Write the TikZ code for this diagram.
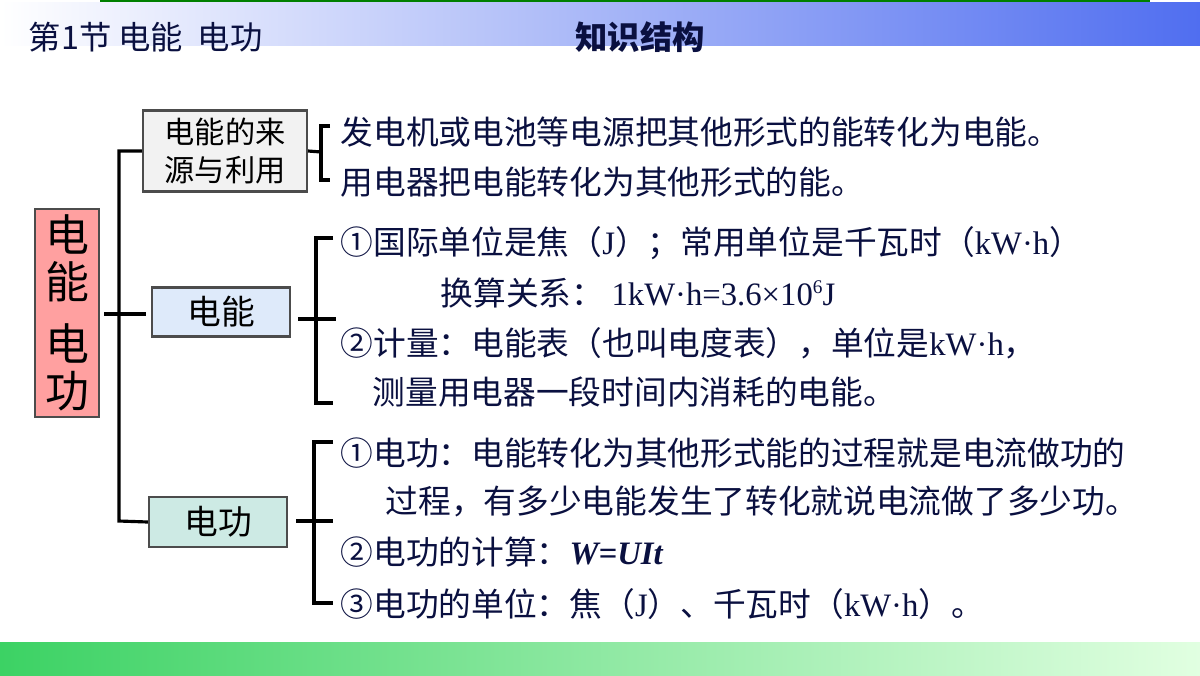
\documentclass[tikz,border=0pt]{standalone}
\usepackage{fontspec}
\setmainfont{Noto Sans CJK SC}
\newfontfamily\lat{Liberation Serif}
\usetikzlibrary{positioning}
\definecolor{ink}{HTML}{0A1040}
\tikzset{
  box/.style={draw=black!70, line width=0.6pt, inner sep=0pt, align=center},
  ln/.style={line width=0.9pt, black},
  txt/.style={anchor=west, inner sep=0pt, text=ink, font=\fontsize{9.3pt}{11pt}\selectfont},
}
\begin{document}
\begin{tikzpicture}[x=0.01cm,y=-0.01cm]
\useasboundingbox (0,0) rectangle (1200,675);
\fill[white] (0,0) rectangle (1200,675);
% header bands
\shade[left color=white, right color={rgb,255:red,80;green,110;blue,240}] (0,2) rectangle (1200,45);
\fill[green!50!black] (100,0) rectangle (1150,2);
\shade[left color={rgb,255:red,60;green,210;blue,100}, right color={rgb,255:red,225;green,255;blue,225}] (0,642) rectangle (1200,675);
\node[anchor=west, inner sep=0pt, text=ink, font=\fontsize{9.2pt}{10pt}\selectfont] (t1) at (28,37) {第1节 电能\ \ 电功};
\node[inner sep=0pt, text=ink, font=\fontsize{9.2pt}{10pt}\selectfont\bfseries] (t2) at (640,37) {知识结构};
% boxes
\node[box, fill={rgb,255:red,255;green,160;blue,160}, minimum width=0.64cm, minimum height=2.08cm, font=\fontsize{12.5pt}{13.5pt}\selectfont] (root) at (67,313) {电\\能\\[4pt]电\\功};
\node[box, fill=black!5, minimum width=1.64cm, minimum height=0.81cm, font=\fontsize{8.6pt}{10.6pt}\selectfont] (b1) at (225,151) {电能的来\\源与利用};
\node[box, fill={rgb,255:red,222;green,234;blue,250}, minimum width=1.38cm, minimum height=0.49cm, font=\fontsize{9.6pt}{11pt}\selectfont] (b2) at (221,312) {电能};
\node[box, fill={rgb,255:red,205;green,234;blue,228}, minimum width=1.38cm, minimum height=0.50cm, font=\fontsize{9.6pt}{11pt}\selectfont] (b3) at (218,522) {电功};
% trunk
\coordinate (r1) at (104,314);
\coordinate (j) at (146,314);
\draw[ln] (r1) -- (j);
\draw[ln] (b1.west) -| (119,521) -- (b3.west);
% bracket 1
\coordinate (s1) at (321,152);
\draw[ln] (b1.east) -- (s1);
\draw[ln] (330,126) -| (321,180) -- (330,180);
% bracket 2
\draw[ln] (298,319) -- (336,319);
\draw[ln] (333,238) -| (316,403) -- (333,403);
% bracket 3
\draw[ln] (296,521) -- (333,521);
\draw[ln] (333,442) -| (314,603) -- (333,603);
% texts
\node[txt] (a1) at (340,132) {发电机或电池等电源把其他形式的能转化为电能。};
\node[txt] (a2) at (340,182) {用电器把电能转化为其他形式的能。};
\node[txt] (c1) at (340,243) {①国际单位是焦（{\lat J}）；常用单位是千瓦时（{\lat kW·h}）};
\node[txt] (c2) at (440,293) {换算关系：\ {\lat 1kW·h=3.6×10\raisebox{0.8ex}{\fontsize{5.5pt}{6pt}\selectfont 6}J}};
\node[txt] (c3) at (340,343) {②计量：电能表（也叫电度表），单位是{\lat kW·h}，};
\node[txt] (c4) at (372,392) {测量用电器一段时间内消耗的电能。};
\node[txt] (d1) at (340,453) {①电功：电能转化为其他形式能的过程就是电流做功的};
\node[txt] (d2) at (385,501) {过程，有多少电能发生了转化就说电流做了多少功。};
\node[txt] (d3) at (340,552) {②电功的计算：{\lat\bfseries\itshape W=UIt}};
\node[txt] (d4) at (340,604) {③电功的单位：焦（{\lat J}）、千瓦时（{\lat kW·h}）。};
\end{tikzpicture}
\end{document}
